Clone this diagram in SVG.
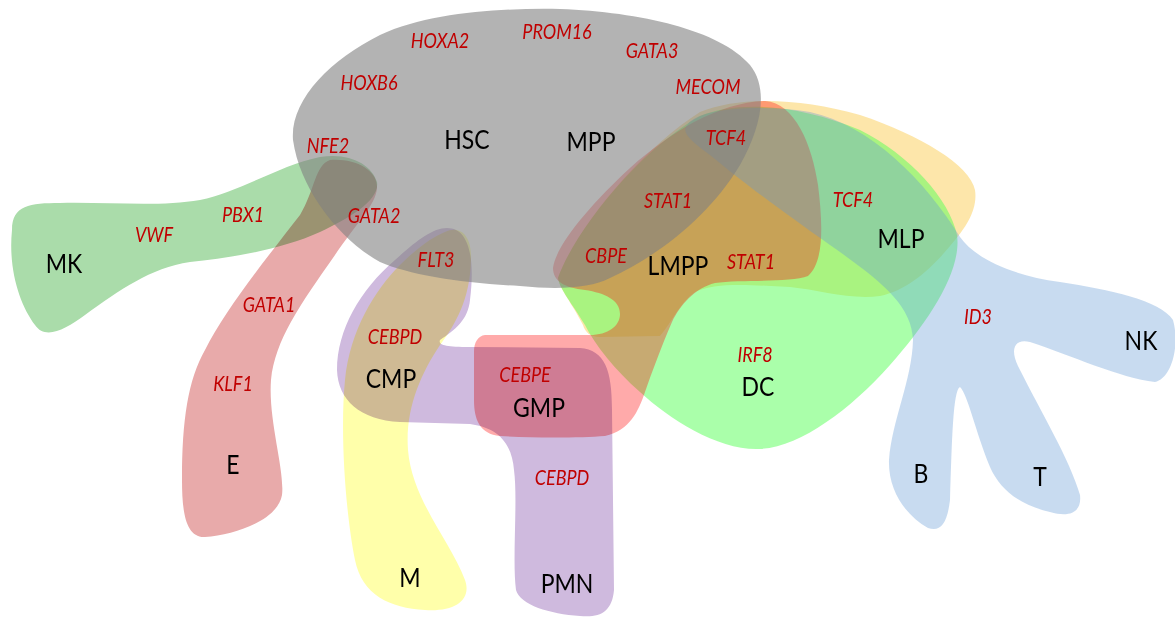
<svg xmlns="http://www.w3.org/2000/svg" width="1175" height="620" viewBox="0 0 1175 620">
<style>
.m { mix-blend-mode: multiply; stroke: none; }
.n { fill-opacity: 0.5; stroke: none; }
.b { font-family: Lato, "Open Sans", "Liberation Sans", sans-serif; font-size: 23px; fill: #000; text-anchor: middle; }
.r { font-family: Lato, "Open Sans", "Liberation Sans", sans-serif; font-style: italic; font-size: 18px; fill: #c00000; text-anchor: middle; }
</style>
<rect width="1175" height="620" fill="#ffffff"/>
<g id="shapes">
<g id="mlp">
<path class="n" fill="#fbcd55" d="M 558,278 C 575,230 640,150 700,112 C 740,96 800,98 860,115 C 920,135 970,165 975,190 C 978,210 965,228 955,240 C 935,265 910,290 880,296 C 850,300 820,290 790,287 C 750,285 715,282 695,292 C 680,302 672,322 660,336 L 600,337 C 590,337 585,332 583,325 C 572,303 560,290 558,278 Z"/>
</g>
<g id="dc">
<path class="n" fill="#55ff55" d="M 558,278 C 575,230 640,150 700,116 C 740,100 800,105 860,130 C 910,155 950,200 957,235 C 962,270 930,320 890,365 C 850,410 800,447 760,449 C 720,451 670,420 640,392 C 615,370 595,345 585,325 C 572,303 560,290 558,278 Z"/>
</g>
<g id="lmpp-gmp">
<path fill="#ff0c0c" fill-opacity="0.35" d="M 485,335 L 590,335 C 608,335 620,326 620,314 C 620,300 605,293 585,290 C 565,288 553,281 553,268 C 556,245 590,205 630,168 C 670,132 720,102 765,101 C 795,103 812,145 818,185 C 823,225 824,262 808,276 C 790,283 740,279 715,283 C 695,288 680,305 672,322 C 662,345 652,372 645,392 C 638,412 630,430 605,436 C 580,438 530,438 500,436 C 480,434 474,420 474,400 L 474,352 C 474,342 478,336 485,335 Z"/>
</g>
<g id="lymphoid">
<path fill="#6299d4" fill-opacity="0.35" d="M 688,124 C 700,108 760,104 810,112 C 870,125 925,180 960,237 C 975,258 1010,275 1060,282 C 1110,290 1160,300 1173,320 C 1180,345 1172,378 1155,382 C 1120,378 1070,355 1030,342 C 1012,338 1010,352 1020,370 C 1040,410 1070,460 1080,495 C 1082,512 1070,518 1050,512 C 1020,505 1000,490 990,467 C 975,430 968,395 960,387 C 953,390 952,440 950,500 C 947,525 940,532 928,528 C 905,515 888,490 889,460 C 892,420 912,380 913,340 C 912,305 880,280 830,245 C 780,210 740,180 710,155 C 690,140 680,132 688,124 Z"/>
</g>
<g id="cmp-pmn">
<path class="m" fill="#cfbade" d="M 447,228 C 470,228 475,260 470,300 C 468,320 455,330 440,340 C 438,345 445,347 470,347 L 580,348 C 605,350 612,370 612,410 L 614,590 C 612,612 600,618 580,616 C 550,614 520,605 516,590 C 512,560 518,500 514,470 C 512,445 500,428 470,424 L 400,422 C 360,420 338,400 337,370 C 337,330 360,290 395,260 C 415,242 432,228 447,228 Z"/>
</g>
<g id="m">
<path class="m" fill="#ffffaa" d="M 445,232 C 460,225 472,235 471,260 C 470,300 455,325 440,345 C 420,375 405,410 408,450 C 412,500 450,540 465,580 C 472,600 455,612 425,610 C 390,608 362,595 355,560 C 345,510 340,430 345,380 C 350,330 375,290 400,265 C 420,245 435,236 445,232 Z"/>
</g>
<g id="e">
<path class="m" fill="#e8aaaa" d="M 330,160 C 355,158 378,170 377,188 C 376,205 355,225 335,255 C 300,305 275,340 271,380 C 268,420 285,470 282,495 C 278,520 235,535 205,537 C 185,538 182,510 182,480 C 182,420 188,380 205,350 C 225,310 265,260 300,215 C 315,190 315,165 330,160 Z"/>
</g>
<g id="mk">
<path class="m" fill="#aadcaa" d="M 12,230 C 12,205 30,203 60,203 C 110,202 160,207 200,200 C 240,192 280,165 320,157 C 350,152 372,165 377,182 C 380,200 350,218 320,232 C 280,250 230,258 190,262 C 150,268 120,290 85,315 C 65,330 45,340 35,325 C 20,305 8,270 12,230 Z"/>
</g>
<g id="hsc-mpp">
<path fill="#808080" fill-opacity="0.6" d="M 293,140 C 290,100 330,60 380,35 C 430,12 500,8 560,9 C 640,12 720,30 750,65 C 770,90 760,130 740,165 C 710,215 660,255 610,278 C 590,288 560,290 520,286 C 460,283 410,275 380,262 C 340,240 300,190 293,140 Z"/>
</g>
</g>
<g id="labels">
<text class="r" transform="translate(440,48) scale(1,1.15)">HOXA2</text>
<text class="r" transform="translate(557,39) scale(1,1.15)">PROM16</text>
<text class="r" transform="translate(652,58) scale(1,1.15)">GATA3</text>
<text class="r" transform="translate(369,90) scale(1,1.15)">HOXB6</text>
<text class="r" transform="translate(708,94) scale(1,1.15)">MECOM</text>
<text class="r" transform="translate(328,153) scale(1,1.15)">NFE2</text>
<text class="r" transform="translate(726,145) scale(1,1.15)">TCF4</text>
<text class="r" transform="translate(374,223) scale(1,1.15)">GATA2</text>
<text class="r" transform="translate(668,208) scale(1,1.15)">STAT1</text>
<text class="r" transform="translate(436,267) scale(1,1.15)">FLT3</text>
<text class="r" transform="translate(606,263) scale(1,1.15)">CBPE</text>
<text class="r" transform="translate(751,269) scale(1,1.15)">STAT1</text>
<text class="r" transform="translate(853,207) scale(1,1.15)">TCF4</text>
<text class="r" transform="translate(755,362) scale(1,1.15)">IRF8</text>
<text class="r" transform="translate(978,324) scale(1,1.15)">ID3</text>
<text class="r" transform="translate(243,222) scale(1,1.15)">PBX1</text>
<text class="r" transform="translate(154,242) scale(1,1.15)">VWF</text>
<text class="r" transform="translate(269,312) scale(1,1.15)">GATA1</text>
<text class="r" transform="translate(233,391) scale(1,1.15)">KLF1</text>
<text class="r" transform="translate(395,344) scale(1,1.15)">CEBPD</text>
<text class="r" transform="translate(525,382) scale(1,1.15)">CEBPE</text>
<text class="r" transform="translate(562,485) scale(1,1.15)">CEBPD</text>
<text class="b" transform="translate(467,149) scale(1,1.15)">HSC</text>
<text class="b" transform="translate(591,151) scale(1,1.15)">MPP</text>
<text class="b" transform="translate(678,275) scale(1,1.15)">LMPP</text>
<text class="b" transform="translate(901,248) scale(1,1.15)">MLP</text>
<text class="b" transform="translate(758,396) scale(1,1.15)">DC</text>
<text class="b" transform="translate(1141,350) scale(1,1.15)">NK</text>
<text class="b" transform="translate(921,483) scale(1,1.15)">B</text>
<text class="b" transform="translate(1040,486) scale(1,1.15)">T</text>
<text class="b" transform="translate(64,273) scale(1,1.15)">MK</text>
<text class="b" transform="translate(233,474) scale(1,1.15)">E</text>
<text class="b" transform="translate(391,388) scale(1,1.15)">CMP</text>
<text class="b" transform="translate(539,417) scale(1,1.15)">GMP</text>
<text class="b" transform="translate(410,587) scale(1,1.15)">M</text>
<text class="b" transform="translate(567,593) scale(1,1.15)">PMN</text>
</g>
</svg>
